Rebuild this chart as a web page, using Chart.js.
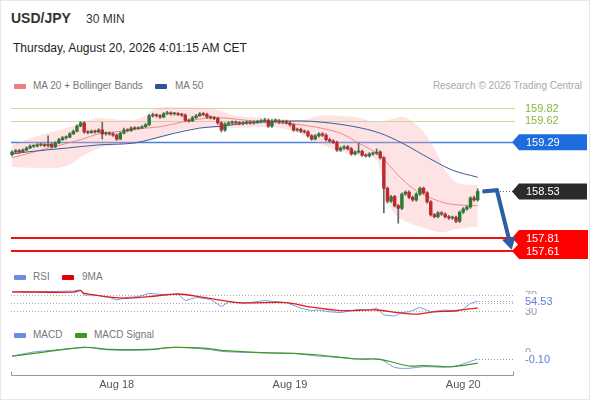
<!DOCTYPE html>
<html>
<head>
<meta charset="utf-8">
<script src="https://cdn.jsdelivr.net/npm/chart.js@4.4.1/dist/chart.umd.min.js"></script>
<style>
  body { margin: 0; background: #fff; font-family: "Liberation Sans", Arial, sans-serif; }
  #wrap { position: relative; width: 590px; height: 400px; overflow: hidden; }
  #frame { position: absolute; left: 0; top: 0; width: 590px; height: 400px; box-sizing: border-box; border: 1px solid #e8e8e8; pointer-events: none; }
  .t { position: absolute; white-space: nowrap; line-height: 14px; }
  .lg { font-size: 10px; color: #777; }
  .key { position: absolute; width: 12px; height: 5px; border-radius: 1px; }
  canvas { position: absolute; left: 0; }
</style>
</head>
<body>
<div id="wrap">
  <div class="t" style="left:11px;top:11px;font-size:14px;font-weight:bold;color:#333">USD/JPY</div>
  <div class="t" style="left:86px;top:12px;font-size:12px;color:#333">30 MIN</div>
  <div class="t" style="left:13px;top:41px;font-size:12px;color:#222">Thursday, August 20, 2026 4:01:15 AM CET</div>

  <div class="key" style="left:14px;top:84px;background:#f07c7c"></div>
  <div class="t lg" style="left:33px;top:79px">MA 20 + Bollinger Bands</div>
  <div class="key" style="left:155px;top:84px;background:#2f5597"></div>
  <div class="t lg" style="left:175px;top:79px">MA 50</div>
  <div class="t lg" style="right:8px;top:79px;color:#aaa">Research © 2026 Trading Central</div>

  <div class="key" style="left:14px;top:275px;background:#6b8fe0"></div>
  <div class="t lg" style="left:33px;top:270px">RSI</div>
  <div class="key" style="left:62px;top:275px;background:#e00000"></div>
  <div class="t lg" style="left:82px;top:270px">9MA</div>

  <div class="key" style="left:14px;top:333px;background:#6b8fe0"></div>
  <div class="t lg" style="left:33px;top:328px">MACD</div>
  <div class="key" style="left:75px;top:333px;background:#3c9a1e"></div>
  <div class="t lg" style="left:94px;top:328px">MACD Signal</div>

  <canvas id="price" width="590" height="170" style="top:95px"></canvas>
  <canvas id="rsi" width="590" height="60" style="top:268px"></canvas>
  <canvas id="macd" width="590" height="70" style="top:330px"></canvas>
  <div id="frame"></div>
</div>
<script>
// 30-minute candles, index 0 = first bar on the left
const open = [
  159.10,159.14,159.16,159.14,159.17,159.20,159.23,159.23,159.25,159.25,
  159.24,159.26,159.22,159.28,159.33,159.36,159.37,159.42,159.46,159.54,
  159.59,159.45,159.44,159.46,159.45,159.48,159.42,159.43,159.42,159.40,
  159.34,159.43,159.48,159.47,159.51,159.50,159.51,159.53,159.56,159.70,
  159.71,159.70,159.68,159.73,159.74,159.73,159.73,159.72,159.71,159.63,
  159.62,159.67,159.70,159.73,159.72,159.68,159.67,159.66,159.59,159.48,
  159.57,159.59,159.60,159.59,159.58,159.59,159.60,159.59,159.60,159.61,
  159.62,159.63,159.54,159.62,159.62,159.60,159.61,159.59,159.56,159.48,
  159.49,159.46,159.45,159.39,159.34,159.39,159.42,159.40,159.33,159.31,
  159.29,159.17,159.20,159.22,159.19,159.11,159.14,159.15,159.09,159.08,
  159.11,159.12,159.14,159.05,158.58,158.38,158.45,158.31,158.27,158.49,
  158.52,158.44,158.40,158.49,158.58,158.51,158.37,158.17,158.14,158.20,
  158.18,158.14,158.12,158.13,158.07,158.21,158.26,158.29,158.43,158.40
];
const high = [
  159.16,159.18,159.18,159.19,159.22,159.25,159.25,159.27,159.27,159.27,
  159.39,159.28,159.30,159.35,159.38,159.39,159.44,159.48,159.56,159.61,
  159.61,159.47,159.48,159.48,159.50,159.60,159.45,159.45,159.44,159.42,
  159.45,159.51,159.50,159.53,159.53,159.53,159.55,159.58,159.72,159.74,
  159.73,159.72,159.75,159.77,159.76,159.75,159.75,159.74,159.73,159.65,
  159.69,159.72,159.75,159.75,159.74,159.70,159.69,159.68,159.61,159.59,
  159.61,159.62,159.62,159.61,159.61,159.62,159.62,159.62,159.63,159.64,
  159.66,159.65,159.64,159.65,159.64,159.63,159.63,159.61,159.58,159.51,
  159.51,159.48,159.47,159.41,159.41,159.44,159.44,159.42,159.35,159.33,
  159.31,159.22,159.24,159.24,159.21,159.16,159.28,159.17,159.11,159.13,
  159.14,159.19,159.16,159.07,158.60,158.47,158.47,158.33,158.51,158.54,
  158.54,158.46,158.51,158.60,158.60,158.53,158.39,158.19,158.22,158.22,
  158.20,158.16,158.15,158.15,158.23,158.28,158.31,158.45,158.46,158.57
];
const low = [
  159.08,159.12,159.12,159.13,159.16,159.19,159.21,159.22,159.23,159.22,
  159.22,159.20,159.21,159.27,159.32,159.34,159.36,159.41,159.45,159.53,
  159.43,159.42,159.43,159.43,159.44,159.34,159.40,159.40,159.38,159.32,
  159.33,159.42,159.45,159.46,159.48,159.49,159.50,159.52,159.55,159.68,
  159.68,159.66,159.67,159.72,159.71,159.71,159.70,159.69,159.61,159.60,
  159.61,159.66,159.69,159.70,159.66,159.65,159.64,159.57,159.45,159.46,
  159.56,159.57,159.57,159.56,159.56,159.57,159.57,159.57,159.58,159.59,
  159.60,159.52,159.52,159.60,159.58,159.58,159.57,159.54,159.46,159.46,
  159.44,159.43,159.37,159.32,159.33,159.37,159.38,159.31,159.29,159.27,
  159.15,159.15,159.18,159.17,159.09,159.09,159.12,159.07,159.06,159.06,
  159.09,159.10,159.03,158.20,158.35,158.36,158.29,158.04,158.25,158.47,
  158.42,158.38,158.38,158.47,158.49,158.35,158.15,158.12,158.12,158.16,
  158.12,158.10,158.10,158.05,158.05,158.19,158.24,158.27,158.38,158.38
];
const close = [
  159.14,159.16,159.14,159.17,159.20,159.23,159.23,159.25,159.25,159.24,
  159.26,159.22,159.28,159.33,159.36,159.37,159.42,159.46,159.54,159.59,
  159.45,159.44,159.46,159.45,159.48,159.42,159.43,159.42,159.40,159.34,
  159.43,159.48,159.47,159.51,159.50,159.51,159.53,159.56,159.70,159.71,
  159.70,159.68,159.73,159.74,159.73,159.73,159.72,159.71,159.63,159.62,
  159.67,159.70,159.73,159.72,159.68,159.67,159.66,159.59,159.48,159.57,
  159.59,159.60,159.59,159.58,159.59,159.60,159.59,159.60,159.61,159.62,
  159.63,159.54,159.62,159.62,159.60,159.61,159.59,159.56,159.48,159.49,
  159.46,159.45,159.39,159.34,159.39,159.42,159.40,159.33,159.31,159.29,
  159.17,159.20,159.22,159.19,159.11,159.14,159.15,159.09,159.08,159.11,
  159.12,159.14,159.05,158.58,158.38,158.45,158.31,158.27,158.49,158.52,
  158.44,158.40,158.49,158.58,158.51,158.37,158.17,158.14,158.20,158.18,
  158.14,158.12,158.13,158.07,158.21,158.26,158.29,158.43,158.40,158.53
];

// indicator readings [bar index, value]
const ma20 = [[0,159.05],[10,159.20],[19,159.33],[24,159.42],[30,159.46],[35,159.50],[41,159.53],[47,159.60],[52,159.65],[57,159.67],[65,159.63],[71,159.60],[80,159.56],[88,159.48],[91,159.43],[96,159.28],[102,159.08],[107,158.78],[111,158.58],[116,158.43],[121,158.34],[129,158.31]];
const ma50 = [[0,159.11],[4,159.14],[15,159.20],[24,159.25],[34,159.28],[38,159.33],[45,159.43],[52,159.51],[58,159.54],[66,159.59],[80,159.62],[86,159.60],[95,159.53],[102,159.43],[108,159.28],[116,159.03],[122,158.86],[129,158.75]];
const bbUpper = [[0,159.25],[6,159.37],[15,159.51],[20,159.60],[24,159.67],[32,159.63],[36,159.67],[39,159.79],[43,159.83],[47,159.83],[57,159.79],[61,159.71],[71,159.67],[80,159.63],[86,159.71],[96,159.67],[101,159.60],[104,159.63],[108,159.68],[113,159.51],[117,159.20],[120,158.86],[124,158.65],[129,158.63]];
const bbLower = [[0,158.91],[10,158.89],[15,158.92],[20,159.09],[24,159.20],[29,159.25],[34,159.28],[38,159.31],[43,159.39],[47,159.48],[52,159.51],[61,159.51],[71,159.53],[80,159.42],[86,159.25],[96,159.09],[101,159.02],[103,158.63],[105,158.27],[109,158.07],[114,157.97],[119,157.90],[123,157.95],[129,157.99]];

const rsi = [[0,78],[6,78],[17,80],[19,83],[20,70],[23,70],[27,64],[29,57.5],[32,64],[35,66],[38,74],[43,70],[46,72.5],[48,56],[51,64],[55,59],[58,41],[60,53],[64,49],[70,56],[76,51],[80,37],[83,31],[85,32.5],[88,28],[91,26],[96,34],[99,32.5],[101,37],[103,20],[106,17.5],[108,26],[110,28],[113,39],[116,28],[120,32.5],[123,28],[125,35],[127,49],[129,54.53]];
const rsiMa = [[0,78],[17,77],[19,81],[20,74],[31,62],[38,66],[46,72.5],[53,64],[63,51],[76,51],[82,41],[91,31],[101,32.5],[107,26],[112,22],[117,28],[122,30],[129,38]];
const macd = [[0,-0.06],[6,0.0],[17,0.05],[20,0.067],[27,0.03],[38,0.03],[45,0.067],[54,0.038],[59,0.005],[69,-0.01],[78,-0.02],[83,-0.05],[90,-0.076],[96,-0.10],[102,-0.105],[106,-0.22],[110,-0.233],[114,-0.21],[122,-0.21],[129,-0.10]];
const macdSignal = [[0,-0.06],[6,-0.02],[20,0.067],[27,0.038],[38,0.038],[45,0.067],[54,0.052],[59,0.019],[69,-0.01],[78,-0.02],[85,-0.043],[96,-0.10],[102,-0.105],[110,-0.2],[114,-0.195],[122,-0.21],[129,-0.16]];

const resistance = [159.82, 159.62];
const pivot = 159.29;
const lastPrice = 158.53;
const support = [157.81, 157.61];
const forecast = [[130.3,158.53],[134.3,158.55],[138.4,157.63]];
const rsiLevels = [70, 50, 30];
const rsiLast = 54.53;
const macdLast = -0.10;
const dayTicks = [29, 77, 125];
const dayLabels = ['Aug 18', 'Aug 19', 'Aug 20'];

Chart.defaults.font.family = '"Liberation Sans", Arial, sans-serif';
Chart.defaults.animation = false;
Chart.defaults.plugins.legend.display = false;
Chart.defaults.plugins.tooltip.enabled = false;

const FONT = '11px "Liberation Sans", Arial, sans-serif';
const X_MIN = -12 / 3.61, X_MAX = (590 - 12) / 3.61;
const pts = a => a.map(([x, y]) => ({ x, y }));
const xScale = { type: 'linear', display: false, min: X_MIN, max: X_MAX, offset: false };

function tag(ctx, yc, color, text) {
  ctx.fillStyle = color;
  ctx.beginPath();
  ctx.moveTo(512, yc);
  ctx.lineTo(519, yc - 8);
  ctx.lineTo(587, yc - 8);
  ctx.lineTo(587, yc + 8);
  ctx.lineTo(519, yc + 8);
  ctx.closePath();
  ctx.fill();
  ctx.fillStyle = '#fff';
  ctx.fillText(text, 526, yc + 0.5);
}

function hline(ctx, y, x0, x1, color, width, dash) {
  ctx.save();
  ctx.strokeStyle = color;
  ctx.lineWidth = width;
  ctx.setLineDash(dash || []);
  ctx.beginPath();
  ctx.moveTo(x0, y);
  ctx.lineTo(x1, y);
  ctx.stroke();
  ctx.restore();
}

const priceLevels = {
  id: 'priceLevels',
  beforeDatasetsDraw(chart) {
    const { ctx, scales: { y } } = chart;
    resistance.forEach(v => hline(ctx, Math.round(y.getPixelForValue(v)) + 0.5, 11, 515, '#c8dca8', 1));
    hline(ctx, Math.round(y.getPixelForValue(pivot)) + 0.5, 11, 516, '#4a80d8', 1.3);
    support.forEach(v => hline(ctx, Math.round(y.getPixelForValue(v)), 11, 517, '#f01010', 2));
  },
  afterDatasetsDraw(chart) {
    const { ctx, scales: { x, y } } = chart;
    ctx.save();
    ctx.font = FONT;
    ctx.textBaseline = 'middle';
    ctx.fillStyle = '#8db33f';
    resistance.forEach(v => ctx.fillText(v.toFixed(2), 525, y.getPixelForValue(v) + 0.5));
    tag(ctx, y.getPixelForValue(pivot), '#1d6ce0', pivot.toFixed(2));

    const yl = y.getPixelForValue(lastPrice);
    hline(ctx, Math.round(yl) + 0.5, 500, 513, '#666', 1, [1, 2]);
    tag(ctx, yl, '#2b2b2b', lastPrice.toFixed(2));

    const y1 = y.getPixelForValue(support[0]), y2 = y.getPixelForValue(support[1]);
    ctx.fillStyle = '#ff0000';
    ctx.beginPath();
    ctx.moveTo(519, y1 - 8);
    ctx.lineTo(588, y1 - 8);
    ctx.lineTo(588, y2 + 8);
    ctx.lineTo(519, y2 + 8);
    ctx.lineTo(512, y2);
    ctx.lineTo(518, (y1 + y2) / 2);
    ctx.lineTo(512, y1);
    ctx.closePath();
    ctx.fill();
    ctx.fillStyle = '#fff';
    support.forEach(v => ctx.fillText(v.toFixed(2), 526, y.getPixelForValue(v) + 0.5));

    // forecast arrow
    const p = forecast.map(([i, v]) => [x.getPixelForValue(i), y.getPixelForValue(v)]);
    const [tx, ty] = p[p.length - 1];
    const [px, py] = p[p.length - 2];
    const ang = Math.atan2(ty - py, tx - px);
    const head = 12;
    const bx = tx - Math.cos(ang) * head, by = ty - Math.sin(ang) * head;
    ctx.strokeStyle = '#2b5ea6';
    ctx.fillStyle = '#2b5ea6';
    ctx.lineWidth = 4;
    ctx.lineJoin = 'miter';
    ctx.beginPath();
    ctx.moveTo(p[0][0], p[0][1]);
    for (let k = 1; k < p.length - 1; k++) ctx.lineTo(p[k][0], p[k][1]);
    ctx.lineTo(bx, by);
    ctx.stroke();
    ctx.beginPath();
    ctx.moveTo(tx, ty);
    ctx.lineTo(bx + Math.sin(ang) * 7, by - Math.cos(ang) * 7);
    ctx.lineTo(bx - Math.sin(ang) * 7, by + Math.cos(ang) * 7);
    ctx.closePath();
    ctx.fill();
    ctx.restore();
  }
};

const candleColor = close.map((c, i) => c >= open[i] ? '#2f7a33' : '#c0282d');

new Chart(document.getElementById('price'), {
  type: 'bar',
  data: {
    datasets: [
      { type: 'line', data: pts(bbUpper), fill: '+1', backgroundColor: 'rgba(250,175,175,0.35)', borderWidth: 0, pointRadius: 0, cubicInterpolationMode: 'monotone', order: 10 },
      { type: 'line', data: pts(bbLower), fill: false, borderWidth: 0, pointRadius: 0, cubicInterpolationMode: 'monotone', order: 11 },
      { type: 'line', data: pts(ma20), borderColor: '#f08a8a', borderWidth: 1, pointRadius: 0, cubicInterpolationMode: 'monotone', order: 5 },
      { type: 'line', data: pts(ma50), borderColor: '#3d5a99', borderWidth: 1, pointRadius: 0, cubicInterpolationMode: 'monotone', order: 4 },
      { data: high.map((h, i) => ({ x: i, y: [low[i], h] })), grouped: false, barThickness: 1, backgroundColor: '#666', order: 2 },
      { data: close.map((c, i) => ({ x: i, y: [open[i], c] })), grouped: false, barThickness: 2.8, minBarLength: 1, backgroundColor: candleColor, order: 1 }
    ]
  },
  options: {
    responsive: false,
    layout: { padding: 0 },
    scales: {
      x: xScale,
      y: { type: 'linear', display: false, min: 157.394, max: 160.021 }
    }
  },
  plugins: [priceLevels]
});

function sideLabel(ctx, yc, text, color) {
  ctx.fillStyle = '#fff';
  ctx.fillRect(521, yc - 7, 42, 14);
  ctx.fillStyle = color;
  ctx.fillText(text, 525, yc + 0.5);
}

const rsiDecor = {
  id: 'rsiDecor',
  beforeDatasetsDraw(chart) {
    const { ctx, scales: { y } } = chart;
    rsiLevels.forEach(v => hline(ctx, Math.round(y.getPixelForValue(v)) + 0.5, 11, 513, '#aaa', 1, [1, 2]));
  },
  afterDatasetsDraw(chart) {
    const { ctx, scales: { y } } = chart;
    ctx.save();
    ctx.font = FONT;
    ctx.textBaseline = 'middle';
    ctx.fillStyle = '#999';
    [rsiLevels[0], rsiLevels[2]].forEach(v => ctx.fillText(String(v), 525, y.getPixelForValue(v) + 0.5));
    const yl = y.getPixelForValue(rsiLast);
    hline(ctx, Math.round(yl) + 0.5, 476, 513, '#8a9ab8', 1, [1, 2]);
    sideLabel(ctx, yl, rsiLast.toFixed(2), '#5b80d6');
    ctx.restore();
  }
};

new Chart(document.getElementById('rsi'), {
  type: 'line',
  data: {
    datasets: [
      { data: pts(rsiMa), borderColor: '#e51c1c', borderWidth: 1.3, pointRadius: 0, tension: 0.3 },
      { data: pts(rsi), borderColor: '#7a9ae6', borderWidth: 1, pointRadius: 0, tension: 0 }
    ]
  },
  options: {
    responsive: false,
    layout: { padding: 0 },
    scales: {
      x: xScale,
      y: { type: 'linear', display: false, min: -12.5, max: 137.5 }
    }
  },
  plugins: [rsiDecor]
});

const macdDecor = {
  id: 'macdDecor',
  afterDatasetsDraw(chart) {
    const { ctx, chartArea, scales: { y } } = chart;
    ctx.save();
    ctx.font = FONT;
    ctx.textBaseline = 'middle';
    ctx.fillStyle = '#999';
    ctx.fillText('0', 525, y.getPixelForValue(0) + 0.5);
    const yl = y.getPixelForValue(macdLast);
    hline(ctx, Math.round(yl) + 0.5, 476, 513, '#8a9ab8', 1, [1, 2]);
    sideLabel(ctx, yl, macdLast.toFixed(2), '#5b80d6');
    // time axis line with end ticks
    const yb = Math.round(chartArea.bottom) + 0.5;
    ctx.strokeStyle = '#999';
    ctx.lineWidth = 1;
    ctx.beginPath();
    ctx.moveTo(11.5, yb - 4);
    ctx.lineTo(11.5, yb);
    ctx.lineTo(513.5, yb);
    ctx.lineTo(513.5, yb - 4);
    ctx.stroke();
    ctx.restore();
  }
};

new Chart(document.getElementById('macd'), {
  type: 'line',
  data: {
    datasets: [
      { data: pts(macdSignal), borderColor: '#3c9a1e', borderWidth: 1.2, pointRadius: 0, tension: 0.3 },
      { data: pts(macd), borderColor: '#7a9ae6', borderWidth: 1, pointRadius: 0, tension: 0.3 }
    ]
  },
  options: {
    responsive: false,
    layout: { padding: 0 },
    scales: {
      x: {
        type: 'linear', min: X_MIN, max: X_MAX, offset: false,
        grid: { display: false, drawTicks: false },
        border: { display: false },
        afterBuildTicks: s => { s.ticks = dayTicks.map(v => ({ value: v })); },
        afterFit: s => { s.height = 25; },
        ticks: {
          autoSkip: false, maxRotation: 0, padding: 3,
          color: '#555', font: { size: 11 },
          callback: v => dayLabels[dayTicks.indexOf(v)]
        }
      },
      y: { type: 'linear', display: false, min: -0.3286, max: 0.3143 }
    }
  },
  plugins: [macdDecor]
});
</script>
</body>
</html>
